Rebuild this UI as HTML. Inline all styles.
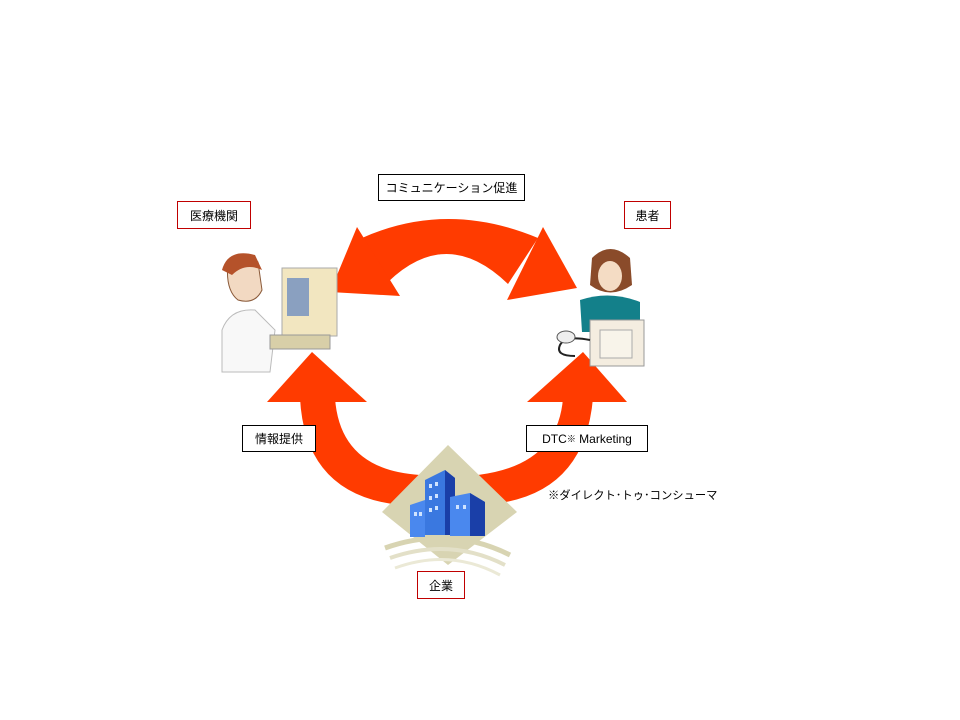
<!DOCTYPE html>
<html><head><meta charset="utf-8"><style>
body{margin:0;background:#fff;width:960px;height:720px;overflow:hidden;position:relative;font-family:"Liberation Sans","Noto Sans CJK JP",sans-serif;}
.b{position:absolute;background:#fff;font-size:12px;display:flex;align-items:center;justify-content:center;box-sizing:border-box;color:#000}
.r{border:1px solid #c00000}.k{border:1px solid #000}
</style></head><body>
<svg width="960" height="720" style="position:absolute;left:0;top:0">
<g fill="#ff3b00">
<path d="M362,238 Q447,200 538,238 L508,284 Q447,225 388,282 Z"/>
<polygon points="357,227 400,296 330,292"/>
<polygon points="543,227 577,288 507,300"/>
<path d="M300,398 Q305,495 400,505 L420,475 Q340,470 335,398 Z"/>
<polygon points="267,402 367,402 312,352"/>
<path d="M593,398 Q585,490 500,503 L478,475 Q558,465 563,398 Z"/>
<polygon points="527,402 627,402 583,352"/>
</g>
<!-- building -->
<polygon points="448,445 517,512 448,565 382,512" fill="#d8d4b2"/>
<path d="M385,548 Q450,525 510,555" stroke="#d8d4b2" stroke-width="5" fill="none"/>
<path d="M390,558 Q450,537 505,565" stroke="#e3e0c8" stroke-width="4" fill="none"/>
<path d="M395,568 Q450,548 500,575" stroke="#ebe9d6" stroke-width="3" fill="none"/>
<polygon points="425,480 445,470 455,478 455,535 425,535" fill="#3a78e0"/>
<polygon points="445,470 455,478 455,535 445,535" fill="#1a3fa8"/>
<polygon points="410,505 425,500 425,537 410,537" fill="#4a88ee"/>
<polygon points="450,497 470,493 485,502 485,536 450,536" fill="#4a88ee"/>
<polygon points="470,493 485,502 485,536 470,536" fill="#1a3fa8"/>
<g fill="#cfe4ff">
<rect x="429" y="484" width="3" height="4"/><rect x="435" y="482" width="3" height="4"/>
<rect x="429" y="496" width="3" height="4"/><rect x="435" y="494" width="3" height="4"/>
<rect x="429" y="508" width="3" height="4"/><rect x="435" y="506" width="3" height="4"/>
<rect x="414" y="512" width="3" height="4"/><rect x="419" y="512" width="3" height="4"/>
<rect x="456" y="505" width="3" height="4"/><rect x="463" y="505" width="3" height="4"/>
</g>
<!-- doctor -->
<path d="M228,262 Q240,250 258,262 L262,290 Q255,305 238,300 Q225,290 228,262Z" fill="#f2d9c2" stroke="#8a5a3a"/>
<path d="M222,270 Q228,248 255,255 L262,270 Q245,262 232,275Z" fill="#b5522a"/>
<path d="M222,330 Q230,308 255,310 L275,330 L270,372 L222,372Z" fill="#f8f8f8" stroke="#bbb"/>
<rect x="282" y="268" width="55" height="68" fill="#f2e6c0" stroke="#aaa"/>
<rect x="287" y="278" width="22" height="38" fill="#8aa0c0"/>
<rect x="270" y="335" width="60" height="14" fill="#d8cfa8" stroke="#999"/>
<!-- patient -->
<path d="M592,258 Q610,240 630,258 L632,285 Q610,300 590,285Z" fill="#8a4b2a"/>
<ellipse cx="610" cy="276" rx="12" ry="15" fill="#f4dcc4"/>
<path d="M580,300 Q610,290 640,302 L640,332 L582,332Z" fill="#13808a"/>
<rect x="590" y="320" width="54" height="46" fill="#f4ede0" stroke="#999"/>
<rect x="600" y="330" width="32" height="28" fill="#f8f4ea" stroke="#aaa"/>
<path d="M590,340 Q565,335 560,345 Q555,356 575,356" stroke="#222" stroke-width="2" fill="none"/>
<ellipse cx="566" cy="337" rx="9" ry="6" fill="#eee" stroke="#555"/>
</svg>
<div class="b r" style="left:177px;top:201px;width:74px;height:28px">医療機関</div>
<div class="b k" style="left:378px;top:174px;width:147px;height:27px">コミュニケーション促進</div>
<div class="b r" style="left:624px;top:201px;width:47px;height:28px">患者</div>
<div class="b k" style="left:242px;top:425px;width:74px;height:27px">情報提供</div>
<div class="b k" style="left:526px;top:425px;width:122px;height:27px">DTC<sup style="font-size:9px">※</sup>&nbsp;Marketing</div>
<div class="b r" style="left:417px;top:571px;width:48px;height:28px">企業</div>
<div style="position:absolute;left:548px;top:487px;font-size:11.3px">※ダイレクト･トゥ･コンシューマ</div>
</body></html>
